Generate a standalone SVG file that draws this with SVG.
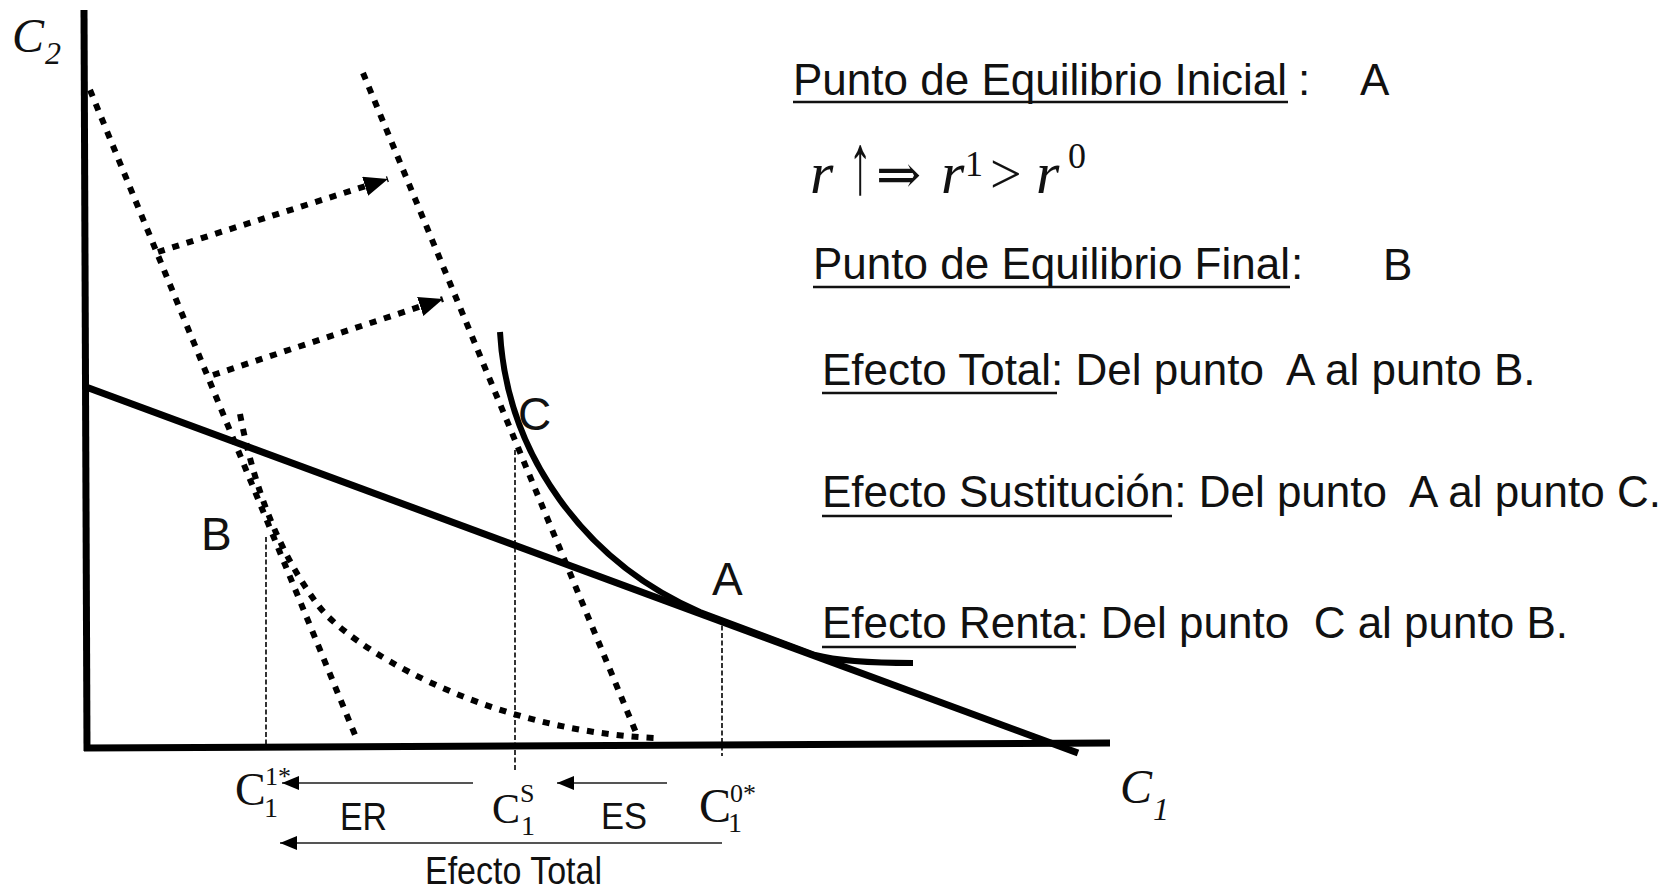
<svg xmlns="http://www.w3.org/2000/svg" width="1675" height="890" viewBox="0 0 1675 890">
<style>
.axis{stroke:#000;stroke-width:7;fill:none;stroke-linecap:butt}
.solid{stroke:#000;stroke-width:7;fill:none}
.curve{stroke:#000;stroke-width:6;fill:none}
.dot{stroke:#000;stroke-width:6;fill:none;stroke-dasharray:7 8}
.dash{stroke:#000;stroke-width:1.6;fill:none;stroke-dasharray:5 2.5}
.thin{stroke:#555;stroke-width:2.2;fill:none}
.ul{stroke:#111;stroke-width:2.6}
.sans{font-family:"Liberation Sans",Arial,sans-serif;fill:#111}
.big{font-size:44px}
.lbl{font-size:46px}
.mi{font-family:"Liberation Serif","DejaVu Serif",serif;font-style:italic;fill:#111}
.mr{font-family:"Liberation Serif","DejaVu Serif",serif;fill:#111}
</style>
<defs>
<marker id="ahDot" markerUnits="userSpaceOnUse" markerWidth="26" markerHeight="20" refX="24" refY="10" orient="auto" viewBox="0 0 26 20">
<path d="M0,0 L24,10 L0,20 Z" fill="#000"/>
</marker>
<marker id="ahThin" markerUnits="userSpaceOnUse" markerWidth="18" markerHeight="14" refX="17" refY="7" orient="auto" viewBox="0 0 18 14">
<path d="M0,0 L17,7 L0,14 Z" fill="#000"/>
</marker>
</defs>
<rect width="1675" height="890" fill="#fff"/>

<g id="axes">
<line class="axis" x1="84" y1="10" x2="87" y2="751"/>
<line class="axis" x1="84" y1="748" x2="1110" y2="743"/>
</g>

<g id="budget-line">
<line class="solid" x1="86" y1="387" x2="1078" y2="753"/>
</g>

<g id="budget-dotted-initial">
<line class="dot" x1="90" y1="90" x2="355" y2="735"/>
</g>
<g id="budget-dotted-compensated">
<line class="dot" x1="363" y1="73" x2="637" y2="735"/>
</g>

<g id="indifference-curve-A">
<path class="curve" d="M500,332 C507,455 585,562 700,612 L815,655 Q845,663 913,663"/>
</g>
<g id="indifference-curve-B">
<path class="dot" d="M240,414 Q262,530 318,605 C345,643 480,730 655,738"/>
</g>

<g id="guides">
<line class="dash" x1="266" y1="537" x2="266" y2="748"/>
<line class="dash" x1="515" y1="450" x2="515" y2="770"/>
<line class="dash" x1="722" y1="618" x2="722" y2="756"/>
</g>

<g id="connectors">
<line class="dot" x1="158" y1="252" x2="388" y2="179" marker-end="url(#ahDot)"/>
<line class="dot" x1="213" y1="375" x2="443" y2="299" marker-end="url(#ahDot)"/>
<line class="thin" x1="473" y1="783" x2="282" y2="783" marker-end="url(#ahThin)"/>
<line class="thin" x1="667" y1="783" x2="557" y2="783" marker-end="url(#ahThin)"/>
<line class="thin" x1="722" y1="843" x2="280" y2="843" marker-end="url(#ahThin)"/>
</g>

<g id="label-C2">
<text class="mi" x="12" y="52" font-size="48">C</text>
<text class="mi" x="45" y="64" font-size="32">2</text>
</g>
<g id="label-C1">
<text class="mi" x="1120" y="803" font-size="48">C</text>
<text class="mi" x="1153" y="820" font-size="32">1</text>
</g>
<g id="point-B"><text class="sans lbl" x="201" y="550">B</text></g>
<g id="point-C"><text class="sans lbl" x="518" y="430">C</text></g>
<g id="point-A"><text class="sans lbl" x="712" y="595">A</text></g>

<g id="label-C1-star">
<text class="mr" x="235" y="805" font-size="46">C</text>
<text class="mr" x="265" y="785" font-size="26">1*</text>
<text class="mr" x="264" y="817" font-size="28">1</text>
</g>
<g id="label-C1-S">
<text class="mr" x="492" y="823" font-size="42">C</text>
<text class="mr" x="520" y="802" font-size="26">S</text>
<text class="mr" x="521" y="835" font-size="28">1</text>
</g>
<g id="label-C1-0star">
<text class="mr" x="699" y="822" font-size="48">C</text>
<text class="mr" x="730" y="802" font-size="26">0*</text>
<text class="mr" x="728" y="832" font-size="28">1</text>
</g>
<g id="label-ER"><text class="sans" x="340" y="830" font-size="38" textLength="47" lengthAdjust="spacingAndGlyphs">ER</text></g>
<g id="label-ES"><text class="sans" x="601" y="829" font-size="36" textLength="46" lengthAdjust="spacingAndGlyphs">ES</text></g>
<g id="label-total"><text class="sans" x="425" y="884" font-size="38" textLength="177" lengthAdjust="spacingAndGlyphs">Efecto Total</text></g>

<g id="text-inicial">
<text class="sans big" x="793" y="95">Punto de Equilibrio Inicial</text>
<line class="ul" x1="793" y1="102" x2="1288" y2="102"/>
<text class="sans big" x="1298" y="95">:</text>
<text class="sans big" x="1360" y="95">A</text>
</g>
<g id="text-equation">
<text class="mi" x="810" y="193" font-size="60">r</text>
<text class="mr" transform="translate(860,193) scale(0.55,1)" x="0" y="0" font-size="86" text-anchor="middle">↑</text>
<text class="mr" x="876" y="193" font-size="54" style="font-family:'DejaVu Serif',serif">⇒</text>
<text class="mi" x="941" y="193" font-size="60">r</text>
<text class="mr" x="965" y="176" font-size="36">1</text>
<text class="mr" x="990" y="193" font-size="56">&gt;</text>
<text class="mi" x="1036" y="193" font-size="60">r</text>
<text class="mr" x="1068" y="168" font-size="36">0</text>
</g>
<g id="text-final">
<text class="sans big" x="813" y="279">Punto de Equilibrio Final</text>
<line class="ul" x1="813" y1="287" x2="1290" y2="287"/>
<text class="sans big" x="1291" y="279">:</text>
<text class="sans big" x="1383" y="280">B</text>
</g>
<g id="text-total">
<text class="sans big" x="822" y="385" xml:space="preserve" style="white-space:pre">Efecto Total: Del punto  A al punto B.</text>
<line class="ul" x1="822" y1="393" x2="1057" y2="393"/>
</g>
<g id="text-sustitucion">
<text class="sans big" x="822" y="507" xml:space="preserve" style="white-space:pre">Efecto Sustitución: Del punto  A al punto C.</text>
<line class="ul" x1="822" y1="516" x2="1172" y2="516"/>
</g>
<g id="text-renta">
<text class="sans big" x="822" y="638" xml:space="preserve" style="white-space:pre">Efecto Renta: Del punto  C al punto B.</text>
<line class="ul" x1="822" y1="647" x2="1076" y2="647"/>
</g>
</svg>
